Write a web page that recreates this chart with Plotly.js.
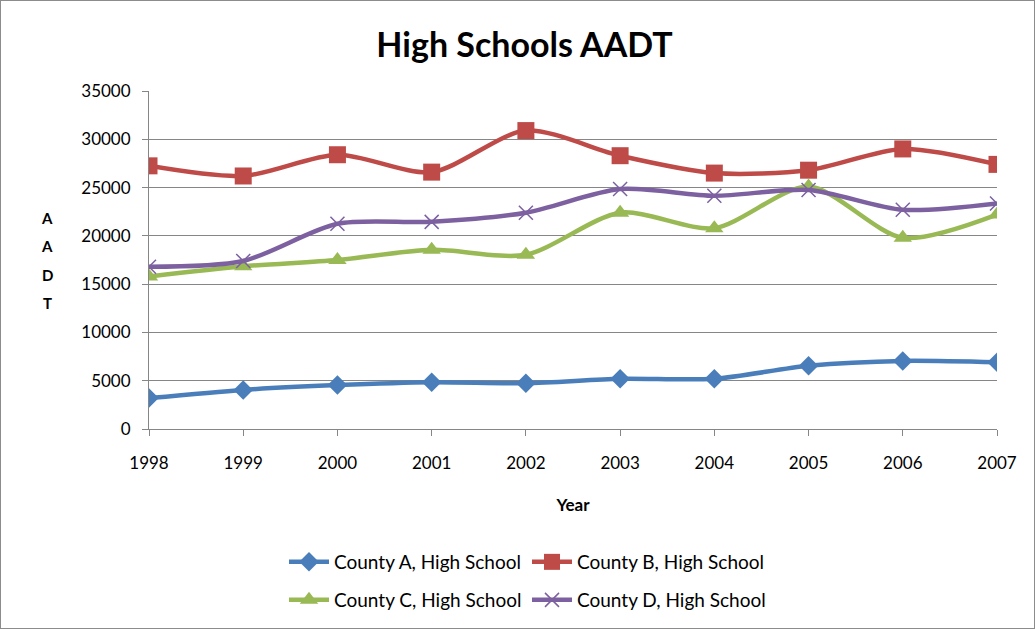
<!DOCTYPE html>
<html><head><meta charset="utf-8">
<script src="https://cdn.plot.ly/plotly-3.0.1.min.js"></script>
<style>body{margin:0;background:#fff}#frame{position:absolute;left:0;top:0;width:1035px;height:629px;box-sizing:border-box;border:1px solid #8c8c8c;pointer-events:none}</style>
</head><body>
<div id="chart" style="width:1035px;height:629px"></div>
<div id="frame"></div>
<script>
const years = [1998,1999,2000,2001,2002,2003,2004,2005,2006,2007];
const countyA = [3200,4050,4550,4850,4750,5200,5200,6550,7050,6900];
const countyB = [27250,26200,28400,26600,30900,28300,26500,26800,29000,27400];
const countyC = [15800,16850,17500,18550,18050,22400,20800,25100,19800,22200];
const countyD = [16800,17400,21250,21450,22400,24850,24150,24750,22700,23350];
const seriesNames = ["County A, High School","County B, High School","County C, High School","County D, High School"];
const yTitleLetters = ["A","A","D","T"];

const FONT = "Lato, 'Open Sans', sans-serif";
const colors = ["#4A7EBB","#BE4B48","#98B954","#7D60A0"];
const symbols = ["diamond","square","triangle-up","x-thin"];
const sizes = [15,17,16,14];
const legendIds = ["legend","legend2","legend3","legend4"];
const data = [countyA,countyB,countyC,countyD].map((vals,i)=>({
  x: years, y: vals, name: seriesNames[i], type:"scatter", mode:"lines+markers",
  line:{color:colors[i], width:4.5, shape:"spline", smoothing:0.8},
  marker: i===3 ? {symbol:symbols[i], size:sizes[i], color:colors[i], line:{color:colors[i], width:1.5}}
               : {symbol:symbols[i], size:sizes[i], color:colors[i]},
  legend: legendIds[i]
}));

const annotations = yTitleLetters.map((t,i)=>({
  text:t, xref:"paper", yref:"paper", x:(47-149)/848, y:(429-(218+i*28.3))/338,
  showarrow:false, font:{family:FONT, size:15, color:"#000", weight:"bold"}, xanchor:"center", yanchor:"middle"
}));

// legend box positions (px) for each entry
const legendPx = [[284,562],[527,562],[284,600],[527,600]];
const legends = {};
legendIds.forEach((id,i)=>{
  legends[id] = {orientation:"h", xanchor:"left", yanchor:"middle",
    x:(legendPx[i][0]-149)/848, y:(429-legendPx[i][1])/338,
    font:{family:FONT, size:19, color:"#000"}, itemwidth:40, bgcolor:"rgba(0,0,0,0)"};
});

const layout = Object.assign({
  width:1035, height:629,
  margin:{l:149, r:38, t:91, b:200, autoexpand:false},
  paper_bgcolor:"#fff", plot_bgcolor:"#fff",
  font:{family:FONT, color:"#000"},
  title:{text:"High Schools AADT", x:0.5+7/1035, xref:"container", xanchor:"center", y:1-45/629, yref:"container", yanchor:"middle",
    font:{family:FONT, size:34, color:"#000", weight:"bold"}},
  xaxis:{range:[1998,2007], tickvals:years, ticktext:years.map(String), showgrid:false,
    showline:true, linecolor:"#868686", linewidth:1, ticks:"outside", ticklen:6, tickcolor:"#868686",
    ticklabelstandoff:13, tickfont:{family:FONT, size:17, color:"#000"}, zeroline:false,
    title:{text:"Year", standoff:26, font:{family:FONT, size:17, color:"#000", weight:"bold"}}},
  yaxis:{range:[0,35000], dtick:5000, showgrid:true, gridcolor:"#868686", gridwidth:1,
    showline:true, linecolor:"#868686", ticks:"outside", ticklen:6, tickcolor:"#868686",
    ticklabelstandoff:8, tickfont:{family:FONT, size:17, color:"#000"}, zeroline:false, tickformat:"d"},
  showlegend:true,
  annotations: annotations
}, legends);
Plotly.newPlot("chart", data, layout, {displayModeBar:false, staticPlot:true});
</script>
</body></html>
